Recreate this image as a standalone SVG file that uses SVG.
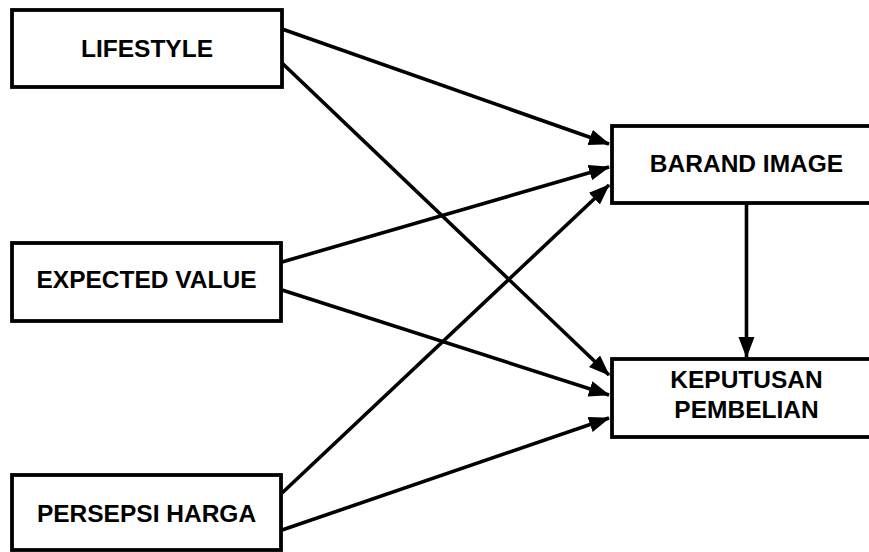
<svg xmlns="http://www.w3.org/2000/svg" width="869" height="552" viewBox="0 0 869 552">
<style>
.box{fill:#fff;stroke:#000;stroke-width:3.8}
.lbl{font-family:"Liberation Sans",Arial,sans-serif;font-weight:bold;font-size:24.5px;fill:#000;text-anchor:middle}
.conn line{stroke:#000;stroke-width:3.6}
</style>
<defs>
<marker id="ah" markerUnits="userSpaceOnUse" markerWidth="24" markerHeight="18" refX="20" refY="8" orient="auto" viewBox="0 0 24 18">
<path d="M0,0 L21,8 L0,16 Z" fill="#000"/>
</marker>
</defs>
<rect width="869" height="552" fill="#fff"/>
<g class="conn">
<line x1="282" y1="29" x2="609" y2="144" marker-end="url(#ah)"/>
<line x1="282" y1="63" x2="609" y2="375" marker-end="url(#ah)"/>
<line x1="282" y1="262" x2="609" y2="167" marker-end="url(#ah)"/>
<line x1="282" y1="290" x2="609" y2="395" marker-end="url(#ah)"/>
<line x1="282" y1="493" x2="609" y2="185" marker-end="url(#ah)"/>
<line x1="282" y1="530" x2="609" y2="418" marker-end="url(#ah)"/>
<line x1="746.5" y1="203" x2="746.5" y2="357" marker-end="url(#ah)"/>
</g>
<g id="lifestyle"><rect class="box" x="12" y="10" width="270" height="77"/><text class="lbl" x="147" y="57">LIFESTYLE</text></g>
<g id="expected"><rect class="box" x="12" y="243" width="269" height="78"/><text class="lbl" x="146.5" y="288">EXPECTED VALUE</text></g>
<g id="persepsi"><rect class="box" x="12" y="475" width="269" height="75"/><text class="lbl" x="146.5" y="522">PERSEPSI HARGA</text></g>
<g id="brand"><rect class="box" x="612" y="126" width="270" height="77"/><text class="lbl" x="746.5" y="172">BARAND IMAGE</text></g>
<g id="keputusan"><rect class="box" x="612" y="359" width="270" height="78"/><text class="lbl" x="746.5" y="388">KEPUTUSAN</text><text class="lbl" x="746.5" y="418">PEMBELIAN</text></g>
</svg>
